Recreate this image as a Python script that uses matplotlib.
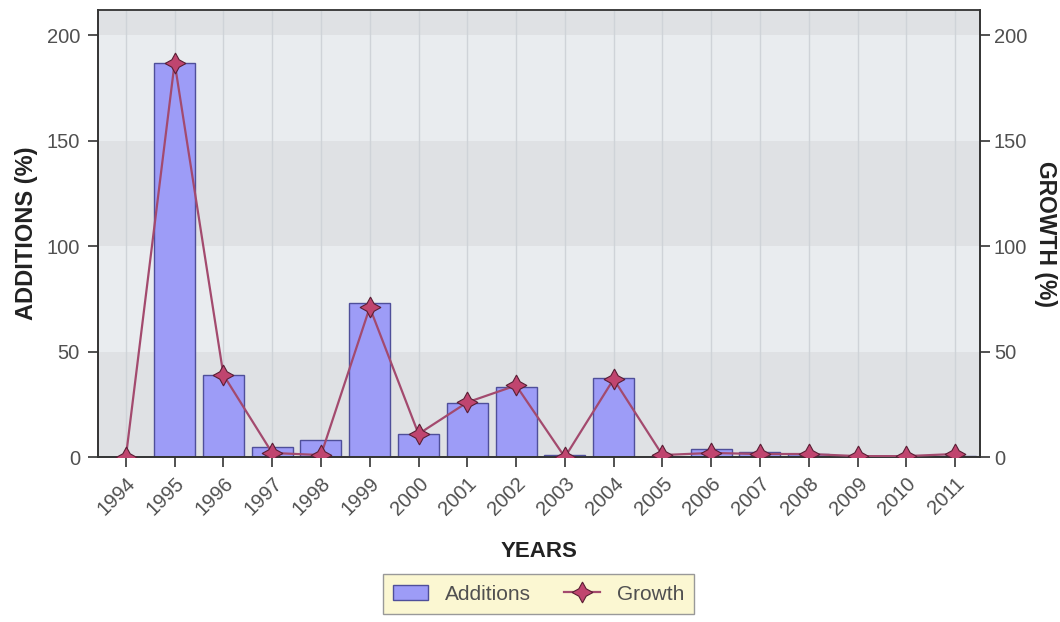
import matplotlib
matplotlib.use("Agg")
import matplotlib.pyplot as plt
import numpy as np

plt.rcParams["font.family"] = ["Liberation Sans", "DejaVu Sans"]

TEXT = "#505050"
BAR_FACE = "#9d9cf7"
BAR_EDGE = "#4f4f9a"
LINE = "#a34a6e"
MARK_FACE = "#c0456f"
MARK_EDGE = "#5a1f35"

years = [str(y) for y in range(1994, 2012)]
additions = [0, 187, 39, 5, 8, 73, 11, 25.5, 33.5, 1, 37.5, 0, 4, 2.5, 1.5, 0.5, 0.3, 0.5]
growth = [0, 187, 39, 2, 1, 71, 11, 26, 34, 0, 37, 1, 2, 1.5, 1.5, 0.5, 0.5, 1.5]
yticks = [0, 50, 100, 150, 200]

fig = plt.figure(figsize=(10.6, 6.22), dpi=100)
ax = fig.add_axes([0.0925, 0.265, 0.832, 0.719])
x = np.arange(len(years))

# alternating horizontal bands
ax.set_facecolor("#e9ecef")
for lo, hi in [(0, 50), (100, 150), (200, 260)]:
    ax.axhspan(lo, hi, color="#dfe1e4", zorder=0, lw=0)
for xi in x:
    ax.axvline(xi, color="#cfd3d8", lw=1, zorder=0.5)

ax.bar(x, additions, width=0.84, color=BAR_FACE, edgecolor=BAR_EDGE,
       linewidth=1.0, zorder=2, label="Additions")

ax2 = ax.twinx()
ax2.plot(x, growth, color=LINE, lw=1.6, marker=(4, 1, 0), markersize=15,
         markerfacecolor=MARK_FACE, markeredgecolor=MARK_EDGE,
         markeredgewidth=0.8, zorder=3, label="Growth")

for a in (ax, ax2):
    a.set_ylim(0, 212)
    a.set_yticks(yticks)
    a.tick_params(axis="y", labelsize=14.5, colors="#333333", labelcolor=TEXT,
                  length=7, width=1.2, pad=6)
    for s in a.spines.values():
        s.set_color("#333333")
        s.set_linewidth(1.2)
ax2.tick_params(axis="y", pad=3)
ax.spines["top"].set_color("#888888")
ax.set_xlim(-0.57, len(years) - 0.49)
ax.set_xticks(x)
ax.set_xticklabels(years, rotation=45, ha="right", rotation_mode="anchor",
                   fontsize=14.5, color=TEXT)
ax.tick_params(axis="x", length=7, width=1.2, colors="#333333", labelcolor=TEXT, pad=5)

ax.set_xlabel("YEARS", fontsize=16, fontweight="bold", color="#222222", labelpad=16)
ax.set_ylabel("ADDITIONS (%)", fontsize=17, fontweight="bold", color="#222222", labelpad=6)
ax2.set_ylabel("GROWTH (%)", fontsize=16.5, fontweight="bold", color="#222222",
               rotation=270, va="center", ha="center")
ax2.yaxis.set_label_coords(1.0745, 0.5)

h1, l1 = ax.get_legend_handles_labels()
h2, l2 = ax2.get_legend_handles_labels()
leg = fig.legend(h1 + h2, l1 + l2, loc="lower center", ncol=2,
                 bbox_to_anchor=(0.508, -0.004), fontsize=15, frameon=True,
                 facecolor="#fbf7d2", edgecolor="#999999", framealpha=1,
                 fancybox=False, handlelength=1.7, columnspacing=1.6,
                 borderpad=0.5)
for t in leg.get_texts():
    t.set_color(TEXT)

fig.savefig("out.png", dpi=100)
